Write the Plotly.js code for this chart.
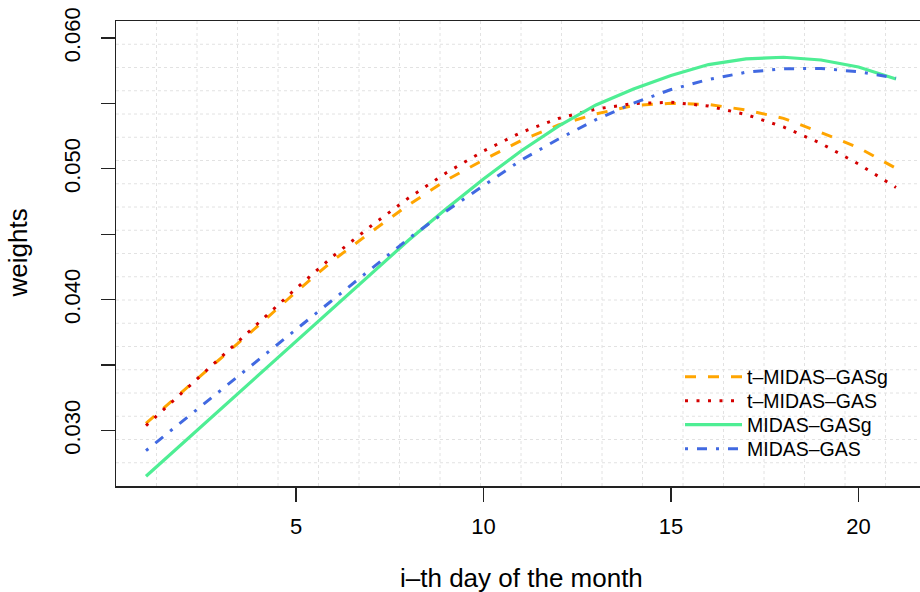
<!DOCTYPE html>
<html>
<head>
<meta charset="utf-8">
<script src="https://cdn.plot.ly/plotly-3.0.1.min.js"></script>
<style>
  html, body { margin: 0; padding: 0; overflow: hidden; background: #fff; }
  #chart { width: 960px; height: 592px; }
</style>
</head>
<body>
<div id="chart"></div>
<script>
// ---- data ----
const days = [1,2,3,4,5,6,7,8,9,10,11,12,13,14,15,16,17,18,19,20,21];

const tMidasGASg = [0.03054, 0.03302, 0.03554, 0.03803, 0.04059, 0.04303, 0.04517, 0.04724, 0.04912, 0.05068,
                    0.05216, 0.05335, 0.05419, 0.05484, 0.05501, 0.05492, 0.05450, 0.05386, 0.05278, 0.05162, 0.05004];
const tMidasGAS  = [0.03037, 0.03299, 0.03563, 0.03829, 0.04085, 0.04335, 0.04563, 0.04777, 0.04968, 0.05136,
                    0.05278, 0.05385, 0.05457, 0.05499, 0.05509, 0.05480, 0.05415, 0.05320, 0.05194, 0.05037, 0.04858];
const midasGASg  = [0.02650, 0.02908, 0.03166, 0.03424, 0.03681, 0.03939, 0.04197, 0.04454, 0.04693, 0.04922,
                    0.05136, 0.05327, 0.05488, 0.05610, 0.05713, 0.05797, 0.05840, 0.05853, 0.05832, 0.05778, 0.05687];
const midasGAS   = [0.02846, 0.03078, 0.03310, 0.03543, 0.03776, 0.04008, 0.04241, 0.04466, 0.04676, 0.04874,
                    0.05066, 0.05228, 0.05376, 0.05502, 0.05606, 0.05683, 0.05738, 0.05765, 0.05767, 0.05742, 0.05694];

const seriesNames = ["t\u2013MIDAS\u2013GASg", "t\u2013MIDAS\u2013GAS", "MIDAS\u2013GASg", "MIDAS\u2013GAS"];

const xTickVals = [5, 10, 15, 20];
const xTickText = ["5", "10", "15", "20"];
const yTickVals = [0.030, 0.035, 0.040, 0.045, 0.050, 0.055, 0.060];
const yTickText = ["0.030", "", "0.040", "", "0.050", "", "0.060"];

const xTitle = "i\u2013th day of the month";
const yTitle = "weights";

// ---- traces (each in its own legend row so the row spacing can match) ----
const traces = [
  { x: days, y: tMidasGASg, name: seriesNames[0], type: "scatter", mode: "lines", legend: "legend",
    line: { color: "#FFA500", width: 3, dash: "11px,12px" } },
  { x: days, y: tMidasGAS, name: seriesNames[1], type: "scatter", mode: "lines", legend: "legend2",
    line: { color: "#D40000", width: 3, dash: "3px,8.5px" } },
  { x: days, y: midasGASg, name: seriesNames[2], type: "scatter", mode: "lines", legend: "legend3",
    line: { color: "#4EEE94", width: 3.2 } },
  { x: days, y: midasGAS, name: seriesNames[3], type: "scatter", mode: "lines", legend: "legend4",
    line: { color: "#4169E1", width: 3, dash: "3px,9px,10px,9px" } }
];

// light dotted 20 x 20 background grid (paper coordinates, drawn below data)
const shapes = [];
for (let k = 1; k < 20; k++) {
  shapes.push({ type: "line", xref: "paper", yref: "paper", x0: k / 20, x1: k / 20, y0: 0, y1: 1,
                layer: "below", line: { color: "#E2E2E2", width: 1, dash: "dot" } });
  shapes.push({ type: "line", xref: "paper", yref: "paper", x0: 0, x1: 1, y0: k / 20, y1: k / 20,
                layer: "below", line: { color: "#E2E2E2", width: 1, dash: "dot" } });
}

const font = "Liberation Sans, Arial, Helvetica, sans-serif";

function legendRow(centerPx) {
  return {
    x: (680 - 116) / 810, xanchor: "left",
    y: (486 - centerPx) / 465, yanchor: "middle",
    bgcolor: "rgba(0,0,0,0)", borderwidth: 0,
    font: { family: font, size: 19.5, color: "#000" },
    itemwidth: 57
  };
}

const layout = {
  width: 960, height: 592,
  margin: { l: 116, r: 34, t: 21, b: 106, pad: 0 },
  paper_bgcolor: "#fff", plot_bgcolor: "#fff",
  font: { family: font, color: "#000", size: 22 },
  showlegend: true,
  legend: legendRow(377),
  legend2: legendRow(401),
  legend3: legendRow(425),
  legend4: legendRow(449),
  xaxis: {
    range: [0.2, 21.8], showgrid: false, zeroline: false,
    tickmode: "array", tickvals: xTickVals, ticktext: xTickText,
    ticks: "outside", ticklen: 14, tickwidth: 1.3, tickcolor: "#222",
    ticklabelstandoff: 6,
    showline: true, mirror: true, linecolor: "#222", linewidth: 1.5,
    tickfont: { family: font, size: 22, color: "#000" }
  },
  yaxis: {
    range: [0.025758, 0.061299], showgrid: false, zeroline: false,
    tickmode: "array", tickvals: yTickVals, ticktext: yTickText,
    ticks: "outside", ticklen: 14, tickwidth: 1.3, tickcolor: "#222",
    tickangle: -90, ticklabelstandoff: 12,
    showline: true, mirror: true, linecolor: "#222", linewidth: 1.5,
    tickfont: { family: font, size: 22, color: "#000" }
  },
  shapes: shapes,
  annotations: [
    { text: xTitle, xref: "paper", yref: "paper", x: 0.5, y: -(578 - 486) / 465,
      xanchor: "center", yanchor: "middle", showarrow: false,
      font: { family: font, size: 26, color: "#000" } },
    { text: yTitle, xref: "paper", yref: "paper", x: (17 - 116) / 810, y: 0.5,
      xanchor: "center", yanchor: "middle", textangle: -90, showarrow: false,
      font: { family: font, size: 26, color: "#000" } }
  ]
};

Plotly.newPlot("chart", traces, layout, { displayModeBar: false, staticPlot: true });
</script>
</body>
</html>
